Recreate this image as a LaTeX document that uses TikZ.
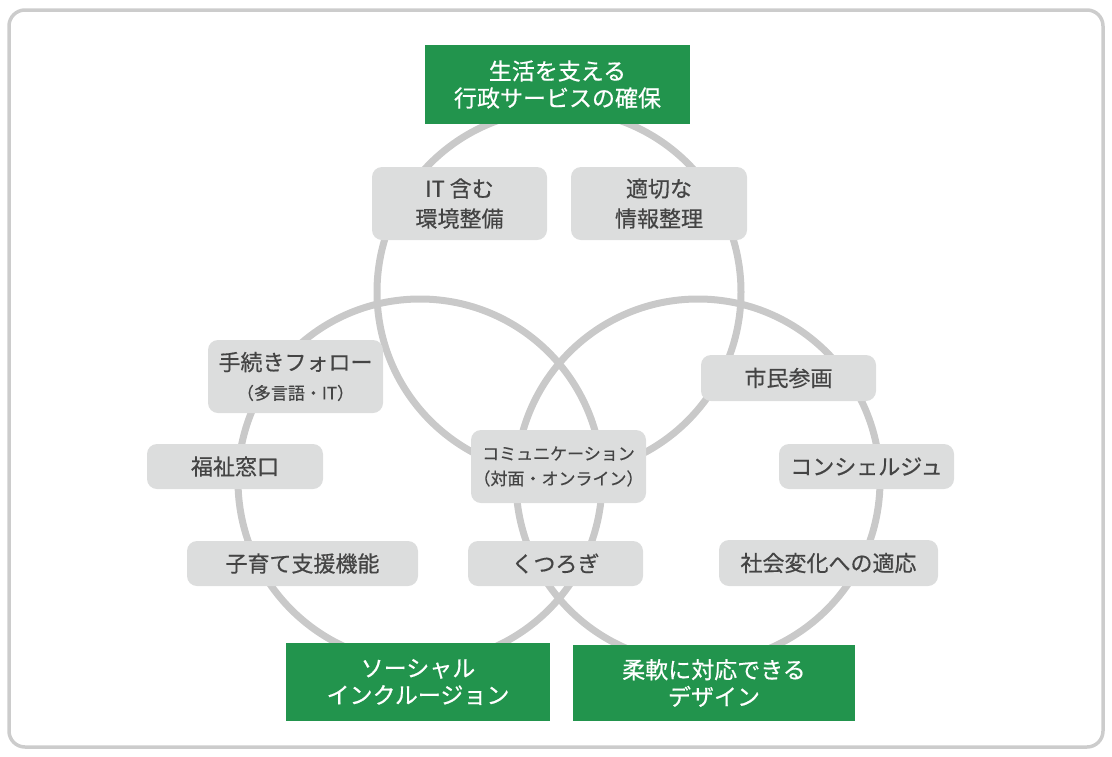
\documentclass[tikz,border=0pt]{standalone}
\usepackage{fontspec}
\setmainfont[FakeBold=0.5]{Noto Sans CJK JP}
\definecolor{kgreen}{HTML}{22944D}
\definecolor{kgray}{HTML}{DCDDDD}
\definecolor{ktext}{HTML}{444444}
\definecolor{kring}{HTML}{C9C9C9}
\definecolor{kframe}{HTML}{CCCCCC}
\begin{document}
\begin{tikzpicture}[x=1pt,y=-1pt,
  ring/.style={draw=kring,line width=7pt},
  greenbox/.style={rectangle,fill=kgreen,text=white,inner sep=0pt,align=center,
    font=\fontsize{23}{27}\selectfont},
  graybox/.style={rectangle,rounded corners=10pt,fill=kgray,text=ktext,inner sep=0pt,align=center,
    font=\fontsize{22}{30}\selectfont},
  smalltxt/.style={font=\fontsize{17}{25}\selectfont}
]
\useasboundingbox (0,0) rectangle (1112,756);
\draw[draw=kframe,line width=3.5pt,rounded corners=16pt] (9,10) rectangle (1103,747);

% circles
\draw[ring] (559,292) circle[radius=182pt];
\draw[ring] (420,481) circle[radius=182pt];
\draw[ring] (698,481) circle[radius=182pt];

% green boxes
\node[greenbox,minimum width=265pt,minimum height=79pt] (top) at (557.5,84.5) {生活を支える\\行政サービスの確保};
\node[greenbox,minimum width=264pt,minimum height=78pt] (bl) at (418,682) {ソーシャル\\インクルージョン};
\node[greenbox,minimum width=282pt,minimum height=76pt] (br) at (714,683) {柔軟に対応できる\\デザイン};

% gray boxes
\node[graybox,minimum width=175pt,minimum height=73pt] (it) at (459.5,203.5) {IT 含む\\環境整備};
\node[graybox,minimum width=176pt,minimum height=73pt] (joho) at (659,203.5) {適切な\\情報整理};
\node[graybox,minimum width=175pt,minimum height=73pt] (tetsu) at (295.5,376.5) {手続きフォロー\\[-1pt]{\fontsize{17}{20}\selectfont （多言語・IT）}};
\node[graybox,minimum width=176pt,minimum height=45pt] (fuku) at (235,466.5) {福祉窓口};
\node[graybox,minimum width=231pt,minimum height=45pt] (kosod) at (302.5,563.5) {子育て支援機能};
\node[graybox,smalltxt,minimum width=175pt,minimum height=73pt] (comm) at (558.5,466.5) {コミュニケーション\\（対面・オンライン）};
\node[graybox,minimum width=175pt,minimum height=45pt] (kutsu) at (555.5,563.5) {くつろぎ};
\node[graybox,minimum width=175pt,minimum height=46pt] (shimin) at (788.5,378) {市民参画};
\node[graybox,minimum width=175pt,minimum height=45pt] (conc) at (866.5,466.5) {コンシェルジュ};
\node[graybox,minimum width=219pt,minimum height=46pt] (shakai) at (828.5,563) {社会変化への適応};
\end{tikzpicture}
\end{document}
